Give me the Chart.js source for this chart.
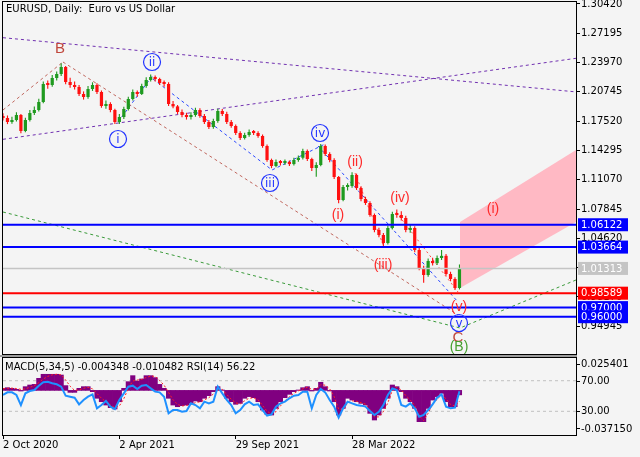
<!DOCTYPE html>
<html>
<head>
<meta charset="utf-8">
<script src="https://cdn.jsdelivr.net/npm/chart.js@4.4.0/dist/chart.umd.min.js"></script>
<style>
  html, body { margin: 0; padding: 0; background: #f4f4f4; }
  #wrap { position: relative; width: 640px; height: 457px; overflow: hidden; }
  #main { position: absolute; left: 0; top: 0; }
  #osc { position: absolute; left: 0; top: 355px; }
</style>
</head>
<body>
<div id="wrap">
  <canvas id="main" width="640" height="355"></canvas>
  <canvas id="osc" width="640" height="102"></canvas>
</div>
<script>
/* =========================
   DATA (one sample every 5 daily bars)
========================= */

const barStep = 5;
const firstOpen = 1.18100;

const closes = [
  1.17872, 1.17432, 1.17652, 1.18202, 1.16441, 1.17652, 1.18423, 1.18753, 1.19633, 1.21614,
  1.21504, 1.22275, 1.22715, 1.23486, 1.21835, 1.21504, 1.21284, 1.20514, 1.20183, 1.21064,
  1.21504, 1.20734, 1.19193, 1.19413, 1.18753, 1.17432, 1.17982, 1.18863, 1.19963, 1.20734,
  1.20514, 1.21394, 1.22055, 1.22385, 1.22165, 1.21724, 1.21614, 1.19413, 1.19150, 1.18532,
  1.18202, 1.17982, 1.18202, 1.18753, 1.18092, 1.17432, 1.16881, 1.17542, 1.18643, 1.18312,
  1.17432, 1.16991, 1.16221, 1.15671, 1.16001, 1.16331, 1.16221, 1.15891, 1.14790, 1.13249,
  1.12589, 1.13029, 1.12919, 1.13029, 1.12800, 1.13249, 1.13500, 1.14240, 1.13359, 1.12369,
  1.12699, 1.14790, 1.13910, 1.13249, 1.11378, 1.08846, 1.10277, 1.10387, 1.11598, 1.10167,
  1.08956, 1.08516, 1.07195, 1.05544, 1.04994, 1.04113, 1.05764, 1.07305, 1.07195, 1.06865,
  1.05544, 1.05764, 1.03343, 1.01362, 1.00591, 1.02132, 1.01900, 1.02462, 1.02700, 1.00701,
  1.00151, 0.99160, 1.01313
];

const highs = [
  1.1840, 1.1815, 1.1800, 1.1850, 1.1830, 1.1790, 1.1875, 1.1915, 1.2000, 1.2190,
  1.2200, 1.2260, 1.2300, 1.2390, 1.2360, 1.2230, 1.2190, 1.2150, 1.2080, 1.2140,
  1.2180, 1.2170, 1.2090, 1.1980, 1.1960, 1.1890, 1.1830, 1.1910, 1.2020, 1.2100,
  1.2090, 1.2165, 1.2235, 1.2265, 1.2255, 1.2230, 1.2200, 1.2180, 1.1975, 1.1930,
  1.1880, 1.1845, 1.1850, 1.1900, 1.1895, 1.1830, 1.1765, 1.1780, 1.1890, 1.1885,
  1.1855, 1.1765, 1.1715, 1.1640, 1.1625, 1.1660, 1.1655, 1.1640, 1.1605, 1.1495,
  1.1340, 1.1330, 1.1325, 1.1330, 1.1320, 1.1350, 1.1375, 1.1450, 1.1440, 1.1350,
  1.1300, 1.1500, 1.1495, 1.1410, 1.1345, 1.1150, 1.1050, 1.1070, 1.1190, 1.1175,
  1.1035, 1.0920, 1.0870, 1.0735, 1.0580, 1.0520, 1.0600, 1.0755, 1.0780, 1.0760,
  1.0710, 1.0610, 1.0595, 1.0355, 1.0160, 1.0240, 1.0250, 1.0275, 1.0335, 1.0290,
  1.0095, 1.0035, 1.0175
];

const lows = [
  1.1760, 1.1720, 1.1725, 1.1750, 1.1620, 1.1630, 1.1750, 1.1820, 1.1860, 1.1950,
  1.2110, 1.2130, 1.2200, 1.2250, 1.2160, 1.2120, 1.2100, 1.2030, 1.1990, 1.2000,
  1.2085, 1.2050, 1.1900, 1.1890, 1.1850, 1.1720, 1.1720, 1.1775, 1.1870, 1.1980,
  1.2020, 1.2040, 1.2120, 1.2190, 1.2190, 1.2150, 1.2130, 1.1920, 1.1895, 1.1830,
  1.1795, 1.1770, 1.1770, 1.1800, 1.1790, 1.1720, 1.1665, 1.1670, 1.1735, 1.1810,
  1.1720, 1.1680, 1.1600, 1.1545, 1.1550, 1.1580, 1.1600, 1.1570, 1.1460, 1.1305,
  1.1235, 1.1245, 1.1265, 1.1270, 1.1260, 1.1265, 1.1305, 1.1330, 1.1315, 1.1205,
  1.1140, 1.1255, 1.1370, 1.1300, 1.1115, 1.0850, 1.0870, 1.0990, 1.1020, 1.0995,
  1.0870, 1.0830, 1.0700, 1.0530, 1.0475, 1.0365, 1.0395, 1.0560, 1.0690, 1.0660,
  1.0530, 1.0525, 1.0310, 1.0110, 0.9975, 1.0040, 1.0165, 1.0170, 1.0225, 1.0050,
  0.9990, 0.9895, 0.9900
];

const macdHist = [
  0.0020, 0.0026, 0.0020, 0.0010, -0.0006, 0.0036, 0.0052, 0.0058, 0.0116, 0.0155,
  0.0155, 0.0155, 0.0155, 0.0148, 0.0046, -0.0019, -0.0019, 0.0020, 0.0036, 0.0036,
  -0.0012, -0.0076, -0.0109, -0.0141, -0.0166, -0.0179, -0.0109, 0.0020, 0.0084, 0.0142,
  0.0090, 0.0110, 0.0142, 0.0142, 0.0123, 0.0058, 0.0020, -0.0076, -0.0141, -0.0157,
  -0.0147, -0.0141, -0.0125, -0.0102, -0.0109, -0.0076, -0.0051, -0.0012, 0.0036, 0.0004,
  -0.0076, -0.0109, -0.0134, -0.0125, -0.0076, -0.0060, -0.0070, -0.0109, -0.0189, -0.0230,
  -0.0237, -0.0173, -0.0109, -0.0070, -0.0038, -0.0012, 0.0004, 0.0026, 0.0036, -0.0006,
  0.0020, 0.0078, 0.0036, -0.0006, -0.0109, -0.0237, -0.0173, -0.0076, -0.0093, -0.0109,
  -0.0125, -0.0141, -0.0221, -0.0285, -0.0237, -0.0173, -0.0076, 0.0052, 0.0036, -0.0012,
  -0.0076, -0.0109, -0.0173, -0.0301, -0.0301, -0.0173, -0.0093, -0.0060, -0.0028, -0.0109,
  -0.0157, -0.0157, -0.0043
];

const macdSignal = [
  0.0015, 0.0020, 0.0022, 0.0018, 0.0010, 0.0015, 0.0030, 0.0045, 0.0075, 0.0110,
  0.0135, 0.0150, 0.0155, 0.0150, 0.0100, 0.0040, 0.0000, 0.0005, 0.0020, 0.0030,
  0.0015, -0.0030, -0.0075, -0.0110, -0.0140, -0.0165, -0.0150, -0.0080, 0.0020, 0.0090,
  0.0100, 0.0105, 0.0125, 0.0138, 0.0135, 0.0095, 0.0050, -0.0020, -0.0090, -0.0135,
  -0.0150, -0.0145, -0.0135, -0.0118, -0.0110, -0.0092, -0.0070, -0.0035, 0.0005, 0.0010,
  -0.0040, -0.0085, -0.0120, -0.0130, -0.0100, -0.0075, -0.0072, -0.0090, -0.0145, -0.0200,
  -0.0228, -0.0205, -0.0150, -0.0100, -0.0060, -0.0028, -0.0005, 0.0015, 0.0030, 0.0010,
  0.0012, 0.0055, 0.0050, 0.0015, -0.0060, -0.0180, -0.0190, -0.0120, -0.0100, -0.0105,
  -0.0118, -0.0132, -0.0185, -0.0255, -0.0255, -0.0205, -0.0120, 0.0000, 0.0030, 0.0005,
  -0.0050, -0.0092, -0.0145, -0.0245, -0.0290, -0.0220, -0.0135, -0.0085, -0.0045, -0.0080,
  -0.0135, -0.0150, -0.0105
];

const rsi14 = [
  51.3, 54.8, 54.8, 51.3, 38.2, 53.5, 56.5, 57.9, 63.5, 67.9,
  68.7, 66.6, 65.3, 62.2, 50.4, 49.1, 47.8, 39.1, 44.8, 49.1,
  52.2, 33.9, 38.2, 43.5, 36.1, 33.0, 44.8, 53.5, 62.2, 63.5,
  59.2, 63.5, 64.4, 60.0, 55.7, 54.8, 49.1, 27.4, 31.7, 31.7,
  29.5, 30.4, 40.4, 38.2, 33.9, 42.6, 40.4, 42.6, 62.2, 53.5,
  44.8, 38.2, 27.4, 31.7, 39.1, 42.6, 38.2, 39.1, 31.7, 24.3,
  26.0, 36.1, 40.4, 42.6, 47.0, 50.4, 51.3, 55.7, 55.7, 33.9,
  51.3, 59.2, 54.8, 44.8, 36.1, 21.7, 33.9, 42.6, 40.4, 38.2,
  37.4, 36.1, 30.4, 25.2, 29.5, 38.2, 51.3, 60.0, 57.9, 38.2,
  36.1, 40.4, 33.9, 23.0, 25.2, 31.7, 39.1, 47.8, 52.2, 36.1,
  33.9, 34.8, 56.22
];

// axes
const dateTicks = [0, 130, 260, 390];
const dateLabels = ['2 Oct 2020', '2 Apr 2021', '29 Sep 2021', '28 Mar 2022'];
const priceTicks = [1.30420, 1.27195, 1.23970, 1.20745, 1.17520, 1.14295, 1.11070,
                    1.07845, 1.04620, 1.01395, 0.98170, 0.94945];
const macdTicks = [0.025401, -0.037150];
const rsiLevels = [70, 30];
const barMax = 640.2;

// horizontal levels
const levelValues = [1.06122, 1.03664, 1.01313, 0.98589, 0.97000, 0.96000];

// drawn trend lines, [bar, price]
const purpleUpper = [[0, 1.26711], [640.2, 1.20745]];
const purpleLower = [[0, 1.15527], [640.2, 1.24443]];
const brownUp = [[0, 1.18753], [67, 1.24036]];
const brownDown = [[67, 1.24036], [508.4, 0.96188]];
const blueWave1 = [[128.5, 1.17432], [167.6, 1.22605]];
const blueWave2 = [[167.6, 1.22165], [300.6, 1.12148], [359.8, 1.15010]];
const blueWave3 = [[352, 1.14790], [508.4, 0.97619]];
const redWave1 = [[393.3, 1.11818], [425.7, 1.03673]];
const redWave2 = [[439.1, 1.07525], [508.4, 0.98719]];
const greenLine = [[0, 1.07525], [510.6, 0.94757], [640.2, 1.00040]];
const channelTop = [[510.6, 1.06425], [640.2, 1.14350]];
const channelBottom = [[510.6, 0.99160], [640.2, 1.06425]];

// wave labels
const waveText  = ['B', 'ii', 'i', 'iii', 'iv', 'v', '(i)', '(ii)', '(iii)', '(iv)', '(v)', '(i)', 'C', '(B)'];
const waveBar   = [63.7, 166.5, 128.5, 298.3, 354.2, 509.5, 374.3, 393.3, 424.6, 443.6, 509.5, 547.5, 508.4, 509.5];
const wavePrice = [1.25577, 1.24036, 1.15560, 1.10717, 1.16221, 0.95307, 1.07195, 1.13029,
                   1.01691, 1.09066, 0.97068, 1.07855, 0.93766, 0.92665];
const waveKind  = ['major', 'minor', 'minor', 'minor', 'minor', 'minor', 'sub', 'sub', 'sub',
                   'sub', 'sub', 'sub', 'major', 'green'];

/* =========================
   STYLES
========================= */

Chart.defaults.font.family = '"DejaVu Sans", sans-serif';
Chart.defaults.font.size = 10;
Chart.defaults.color = '#000';
Chart.defaults.animation = false;
Chart.defaults.events = [];

const upColor = '#1f9a1f';
const downColor = '#ff1010';
const levelColors = ['#0000ff', '#0000ff', '#c4c4c4', '#ff0000', '#0000ff', '#0000ff'];
const levelWidths = [2, 2, 1.5, 2, 2, 2];
const waveStyle = {
  major: { font: '15px "Liberation Sans"', color: '#c0473c' },
  minor: { font: '12px "DejaVu Sans"', color: '#2233ff', circle: true },
  sub:   { font: '14px "Liberation Sans"', color: '#ff2a2a' },
  green: { font: '14px "Liberation Sans"', color: '#46a02e' }
};

function pts(list) {
  return list.map(p => ({ x: p[0], y: p[1] }));
}

function dotted(list, color, dash) {
  return {
    type: 'line',
    data: pts(list),
    borderColor: color,
    borderWidth: 1,
    borderDash: dash,
    pointRadius: 0,
    fill: false,
    order: 3
  };
}

/* =========================
   MAIN CHART
========================= */

const opens = closes.map((c, i) => i ? closes[i - 1] : firstOpen);
const candleColors = closes.map((c, i) => c >= opens[i] ? upColor : downColor);

const mainPlugin = {
  id: 'mainPlugin',
  afterDatasetsDraw(chart) {
    const { ctx, scales: { x, y } } = chart;
    ctx.save();
    ctx.textAlign = 'center';
    ctx.textBaseline = 'middle';
    waveText.forEach((t, i) => {
      const st = waveStyle[waveKind[i]];
      const px = x.getPixelForValue(waveBar[i]);
      const py = y.getPixelForValue(wavePrice[i]);
      if (st.circle) {
        ctx.beginPath();
        ctx.arc(px, py, 8.5, 0, Math.PI * 2);
        ctx.strokeStyle = st.color;
        ctx.lineWidth = 1.2;
        ctx.stroke();
      }
      ctx.font = st.font;
      ctx.fillStyle = st.color;
      ctx.fillText(t, px, py + 0.5);
    });
    ctx.restore();
  },
  afterDraw(chart) {
    const { ctx, chartArea: a, scales: { y } } = chart;
    ctx.save();
    // frame
    ctx.strokeStyle = '#000';
    ctx.lineWidth = 1;
    ctx.strokeRect(a.left - 0.5, a.top - 0.5, a.right - a.left + 1, a.bottom - a.top + 1);

    // title
    ctx.font = '10px "DejaVu Sans"';
    ctx.fillStyle = '#000';
    ctx.textAlign = 'left';
    ctx.textBaseline = 'middle';
    ctx.fillText('EURUSD, Daily:  Euro vs US Dollar', 6, 9);

    // price boxes on the axis
    levelValues.forEach((v, i) => {
      const py = y.getPixelForValue(v);
      ctx.fillStyle = levelColors[i];
      ctx.fillRect(a.right + 2, py - 6.5, 50, 13);
      ctx.fillStyle = '#fff';
      ctx.fillText(v.toFixed(5), a.right + 5, py + 0.5);
    });
    ctx.restore();
  }
};

const levelSets = levelValues.map((v, i) => ({
  type: 'line',
  data: pts([[0, v], [barMax, v]]),
  borderColor: levelColors[i],
  borderWidth: levelWidths[i],
  pointRadius: 0,
  fill: false,
  order: 1
}));

new Chart(document.getElementById('main'), {
  type: 'bar',
  data: {
    datasets: [
      // candle bodies
      {
        type: 'bar',
        data: closes.map((c, i) => ({ x: i * barStep, y: [opens[i], c] })),
        backgroundColor: candleColors,
        barPercentage: 0.72,
        categoryPercentage: 1,
        minBarLength: 2,
        grouped: false,
        order: 2
      },
      // wicks
      {
        type: 'bar',
        data: closes.map((c, i) => ({ x: i * barStep, y: [lows[i], highs[i]] })),
        backgroundColor: candleColors,
        barPercentage: 0.25,
        categoryPercentage: 1,
        grouped: false,
        order: 2
      },
      ...levelSets,
      dotted(purpleUpper, '#7030b0', [3, 3]),
      dotted(purpleLower, '#7030b0', [3, 3]),
      dotted(brownUp, '#c0675e', [3, 3]),
      dotted(brownDown, '#c0675e', [3, 3]),
      dotted(blueWave1, '#2a48ff', [3, 3]),
      dotted(blueWave2, '#2a48ff', [3, 3]),
      dotted(blueWave3, '#2a48ff', [3, 3]),
      dotted(redWave1, '#ff4a4a', [2, 3]),
      dotted(redWave2, '#ff4a4a', [2, 3]),
      dotted(greenLine, '#3a9a3a', [3, 3]),
      {
        type: 'line',
        data: pts(channelTop),
        borderWidth: 0,
        borderColor: 'rgba(0,0,0,0)',
        backgroundColor: '#ffb9c4',
        pointRadius: 0,
        fill: '+1',
        order: 4
      },
      {
        type: 'line',
        data: pts(channelBottom),
        borderWidth: 0,
        borderColor: 'rgba(0,0,0,0)',
        pointRadius: 0,
        fill: false,
        order: 4
      }
    ]
  },
  options: {
    responsive: false,
    maintainAspectRatio: false,
    layout: { padding: { left: 3, top: 2, right: 0, bottom: 1 } },
    plugins: { legend: { display: false }, tooltip: { enabled: false } },
    scales: {
      x: {
        type: 'linear',
        display: false,
        min: 0,
        max: barMax,
        offset: false,
        grid: { offset: false }
      },
      y: {
        position: 'right',
        min: 0.91895,
        max: 1.30640,
        afterBuildTicks: scale => { scale.ticks = priceTicks.map(v => ({ value: v })); },
        afterFit: scale => { scale.width = 64; scale.paddingTop = 0; scale.paddingBottom = 0; },
        grid: { drawOnChartArea: false, tickLength: 4, color: '#000' },
        border: { color: '#000' },
        ticks: { padding: 1, autoSkip: false, callback: v => Number(v).toFixed(5) }
      }
    }
  },
  plugins: [mainPlugin]
});

/* =========================
   MACD / RSI PANEL
========================= */

const oscPlugin = {
  id: 'oscPlugin',
  beforeDraw(chart) {
    const { ctx, chartArea: a } = chart;
    ctx.save();
    ctx.fillStyle = '#9c9c9c';
    ctx.fillRect(0, 0, a.right + 1, 2);
    ctx.restore();
  },
  afterDraw(chart) {
    const { ctx, chartArea: a, scales: { yr } } = chart;
    ctx.save();
    ctx.strokeStyle = '#000';
    ctx.lineWidth = 1;
    ctx.strokeRect(a.left - 0.5, a.top - 0.5, a.right - a.left + 1, a.bottom - a.top + 1);

    ctx.font = '10px "DejaVu Sans"';
    ctx.fillStyle = '#000';
    ctx.textAlign = 'left';
    ctx.textBaseline = 'middle';
    ctx.fillText('MACD(5,34,5) -0.004348 -0.010482 RSI(14) 56.22', 5, 12);

    rsiLevels.forEach(v => {
      const py = Math.round(yr.getPixelForValue(v)) + 0.5;
      ctx.beginPath();
      ctx.moveTo(a.right, py);
      ctx.lineTo(a.right + 4, py);
      ctx.stroke();
      ctx.fillText(v.toFixed(2), a.right + 5, py);
    });
    ctx.restore();
  }
};

new Chart(document.getElementById('osc'), {
  type: 'bar',
  data: {
    datasets: [
      {
        type: 'line',
        data: closes.map((c, i) => ({ x: i * barStep, y: rsi14[i] })),
        yAxisID: 'yr',
        borderColor: '#1e90ff',
        borderWidth: 2,
        pointRadius: 0,
        tension: 0,
        order: 1
      },
      {
        type: 'line',
        data: closes.map((c, i) => ({ x: i * barStep, y: macdSignal[i] })),
        yAxisID: 'y',
        borderColor: '#ff2020',
        borderWidth: 1,
        borderDash: [2, 2],
        pointRadius: 0,
        order: 2
      },
      {
        type: 'bar',
        data: closes.map((c, i) => ({ x: i * barStep, y: macdHist[i] })),
        yAxisID: 'y',
        backgroundColor: '#800080',
        barPercentage: 1,
        categoryPercentage: 1,
        order: 3
      },
      ...rsiLevels.map(v => ({
        type: 'line',
        data: pts([[0, v], [barMax, v]]),
        yAxisID: 'yr',
        borderColor: '#c0c0c0',
        borderWidth: 1,
        borderDash: [3, 3],
        pointRadius: 0,
        order: 4
      }))
    ]
  },
  options: {
    responsive: false,
    maintainAspectRatio: false,
    layout: { padding: { left: 3, top: 3, right: 0, bottom: 0 } },
    plugins: { legend: { display: false }, tooltip: { enabled: false } },
    scales: {
      x: {
        type: 'linear',
        min: 0,
        max: barMax,
        offset: false,
        afterBuildTicks: scale => { scale.ticks = dateTicks.map(v => ({ value: v })); },
        afterFit: scale => { scale.height = 22; scale.paddingLeft = 0; scale.paddingRight = 0; },
        grid: { drawOnChartArea: false, offset: false, tickLength: 4, color: '#000' },
        border: { color: '#000' },
        ticks: {
          align: 'start',
          padding: 0,
          maxRotation: 0,
          autoSkip: false,
          callback: v => dateLabels[dateTicks.indexOf(v)]
        }
      },
      y: {
        position: 'right',
        min: -0.042925,
        max: 0.031176,
        afterBuildTicks: scale => { scale.ticks = macdTicks.map(v => ({ value: v })); },
        afterFit: scale => { scale.width = 64; scale.paddingTop = 0; scale.paddingBottom = 0; },
        grid: { drawOnChartArea: false, tickLength: 4, color: '#000' },
        border: { color: '#000' },
        ticks: { padding: 1, autoSkip: false, callback: v => Number(v).toFixed(6) }
      },
      yr: {
        display: false,
        min: -0.98,
        max: 99.7
      }
    }
  },
  plugins: [oscPlugin]
});
</script>
</body>
</html>
